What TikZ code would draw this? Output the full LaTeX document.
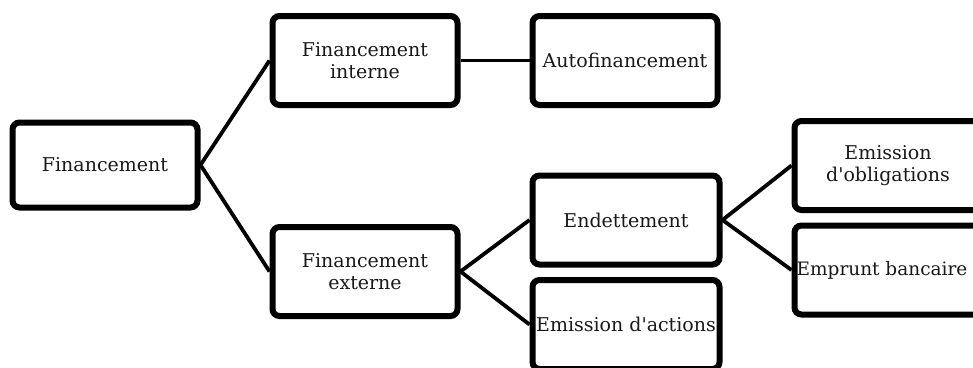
\documentclass[tikz,border=0pt]{standalone}
\usepackage{fontspec}
\setmainfont{DejaVu Serif}
\begin{document}
\begin{tikzpicture}[x=1pt,y=-1pt,
  box/.style={draw=black, line width=6pt, rounded corners=7pt, fill=white,
    minimum width=185pt, minimum height=89pt, inner sep=0pt, align=center,
    font=\fontsize{19}{22}\selectfont, text=black!90},
  link/.style={draw=black, line width=3.8pt}]
\useasboundingbox (0,0) rectangle (973,367);
\clip (0,0) rectangle (973,367);
\node[box, minimum height=85pt] (fin) at (105,165) {Financement};
\node[box] (fi) at (365,60.5) {Financement\\interne};
\node[box] (auto) at (625,60.5) {Autofinancement};
\node[box] (fe) at (365,271.5) {Financement\\externe};
\node[box, minimum width=187pt] (end) at (626,220) {Endettement};
\node[box, minimum width=187pt] (ea) at (626,324.5) {Emission d\textquotesingle actions};
\node[box, minimum width=187pt] (eo) at (888,165.5) {Emission\\d\textquotesingle obligations};
\node[box, minimum width=187pt, font=\fontsize{18.5}{22}\selectfont] (eb) at (888,270) {\hbox{Emprunt bancaire\kern12pt}};
\draw[link] (fin.east) -- (fi.west);
\draw[link] (fin.east) -- (fe.west);
\draw[link] (fi.east) -- (auto.west);
\draw[link] (fe.east) -- (end.west);
\draw[link] (fe.east) -- (ea.west);
\draw[link] (end.east) -- (eo.west);
\draw[link] (end.east) -- (eb.west);
\end{tikzpicture}
\end{document}
